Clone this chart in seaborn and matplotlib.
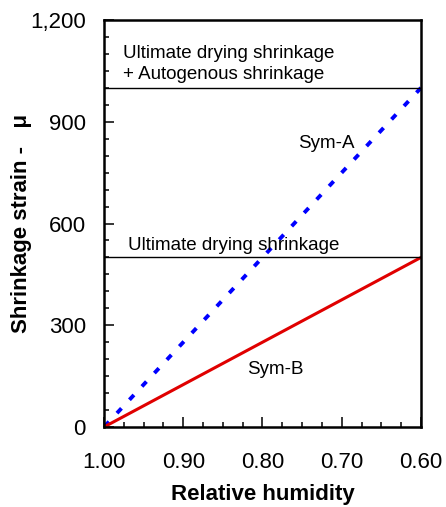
import matplotlib
matplotlib.use("Agg")
import matplotlib.pyplot as plt
import seaborn as sns
import pandas as pd
from matplotlib.ticker import MultipleLocator, FuncFormatter

sns.set_style("ticks")
plt.rcParams['font.family'] = ['Liberation Sans', 'DejaVu Sans']
plt.rcParams['text.color'] = 'black'
plt.rcParams['axes.labelcolor'] = 'black'
plt.rcParams['xtick.color'] = 'black'
plt.rcParams['ytick.color'] = 'black'

humidity = [1.00, 0.60]
sym_a = [0, 1000]
sym_b = [0, 500]
ultimate_plus_auto = 1000
ultimate_drying = 500

df = pd.DataFrame({
    "humidity": humidity * 2,
    "strain": sym_a + sym_b,
    "series": ["Sym-A"] * 2 + ["Sym-B"] * 2,
})

fig = plt.figure(figsize=(4.46, 5.07), dpi=100)
ax = fig.add_axes([104/446, 80/507, 317/446, 407/507])

sns.lineplot(data=df[df.series == "Sym-A"], x="humidity", y="strain", ax=ax,
             color="#0000ff", linewidth=2.8, linestyle=(0, (1.7, 3.0)), legend=False)
sns.lineplot(data=df[df.series == "Sym-B"], x="humidity", y="strain", ax=ax,
             color="#e00000", linewidth=2.2, legend=False)

ax.axhline(ultimate_plus_auto, color="black", linewidth=1)
ax.axhline(ultimate_drying, color="black", linewidth=1)

ax.set_xlim(1.00, 0.60)
ax.set_ylim(0, 1200)
ax.xaxis.set_major_locator(MultipleLocator(0.1))
ax.xaxis.set_minor_locator(MultipleLocator(0.025))
ax.yaxis.set_major_locator(MultipleLocator(300))
ax.yaxis.set_minor_locator(MultipleLocator(50))
ax.xaxis.set_major_formatter(FuncFormatter(lambda v, p: f"{v:.2f}"))
ax.yaxis.set_major_formatter(FuncFormatter(lambda v, p: f"{int(round(v)):,}"))
ax.tick_params(axis="both", which="major", direction="in", length=7, width=1.1,
               labelsize=16)
ax.tick_params(axis="x", which="major", pad=18)
ax.tick_params(axis="y", which="major", pad=13)
ax.tick_params(axis="both", which="minor", direction="in", length=3.5, width=1.1)
for s in ax.spines.values():
    s.set_linewidth(1.8)
    s.set_color("black")

ax.set_xlabel("Relative humidity", fontsize=16, fontweight="bold", labelpad=8)
ax.set_ylabel("Shrinkage strain -   \u03bc", fontsize=16, fontweight="bold", labelpad=-1)

ax.text(0.976, 1088, "Ultimate drying shrinkage", fontsize=13.5, va="baseline", ha="left")
ax.text(0.976, 1026, "+ Autogenous shrinkage", fontsize=13.5, va="baseline", ha="left")
ax.text(0.970, 522, "Ultimate drying shrinkage", fontsize=13.5, va="baseline", ha="left")
ax.text(0.755, 823, "Sym-A", fontsize=13.5, va="baseline", ha="left")
ax.text(0.820, 156, "Sym-B", fontsize=13.5, va="baseline", ha="left")

fig.savefig("out.png", dpi=100)
